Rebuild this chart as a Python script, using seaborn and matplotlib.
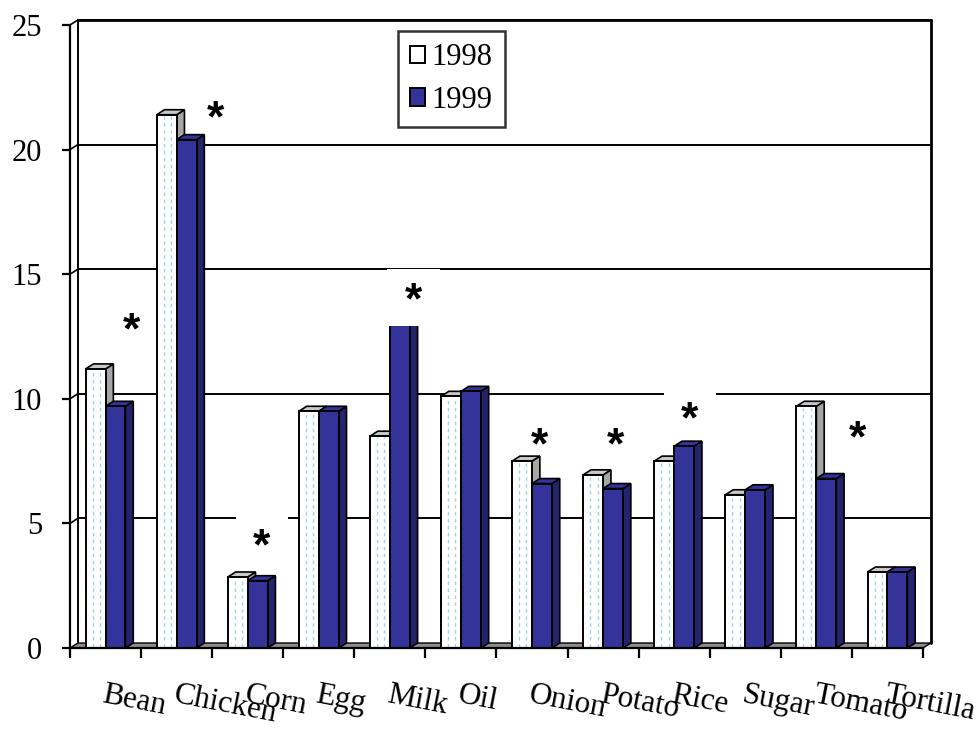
import matplotlib
matplotlib.use("Agg")
import matplotlib.pyplot as plt
from matplotlib.patches import Polygon, Patch, Rectangle
import seaborn as sns
import pandas as pd

# Average price per food item, two survey years
foods = ["Bean", "Chicken", "Corn", "Egg", "Milk", "Oil",
         "Onion", "Potato", "Rice", "Sugar", "Tomato", "Tortilla"]
values_1998 = [11.2, 21.4, 2.85, 9.5, 8.5, 10.1, 7.5, 6.95, 7.5, 6.15, 9.7, 3.05]
values_1999 = [9.7, 20.4, 2.7, 9.5, 12.95, 10.3, 6.6, 6.4, 8.1, 6.35, 6.8, 3.05]
years = ["1998", "1999"]
y_ticks = [0, 5, 10, 15, 20, 25]

# Significant changes marked with an asterisk:
# (food, height, x offset, depth of the white label box below it, 0 = no box)
stars = [("Bean", 12.7, 0.36, 0), ("Chicken", 21.2, 0.55, 0),
         ("Corn", 4.0, 0.2, 0.75), ("Milk", 13.9, 0.33, 0.97),
         ("Onion", 8.05, 0.1, 0), ("Potato", 8.05, 0.17, 0),
         ("Rice", 9.1, 0.22, 0.7), ("Tomato", 8.35, 0.58, 0)]

df = pd.DataFrame({
    "food": foods * 2,
    "value": values_1998 + values_1999,
    "year": [years[0]] * len(foods) + [years[1]] * len(foods),
})

serif = ["Liberation Serif", "DejaVu Serif"]
front_colors = {"1998": "#ffffff", "1999": "#333399"}
side_colors = {"1998": "#a6a6a6", "1999": "#24246e"}
top_colors = {"1998": "#c8c8c8", "1999": "#333399"}

sns.set_style("white")
plt.rcParams.update({"text.color": "black", "axes.labelcolor": "black",
                     "xtick.color": "black", "ytick.color": "black"})
fig = plt.figure(figsize=(9.79, 7.30), dpi=100)
ax = fig.add_axes([70 / 979, 82 / 730, 853 / 979, 623 / 730])

sns.barplot(data=df, x="food", y="value", hue="year", order=foods,
            hue_order=years, palette=front_colors, saturation=1,
            width=0.56, dodge=True, edgecolor="black", linewidth=1.4,
            legend=False, ax=ax)

ax.set_xlim(-0.5, len(foods) - 0.5)
ax.set_ylim(0, 25)

# depth of the pseudo-3D extrusion in data units
dx, dy = 0.11, 0.2

for k, (year, cont) in enumerate(zip(years, ax.containers)):
    zb = 3 + 1.5 * k
    for bar in cont.patches:
        x0, w, h = bar.get_x(), bar.get_width(), bar.get_height()
        bar.set_zorder(zb + 0.2)
        side = Polygon([(x0 + w, 0), (x0 + w + dx, dy), (x0 + w + dx, h + dy),
                        (x0 + w, h)], closed=True, facecolor=side_colors[year],
                       edgecolor="black", linewidth=1.2, zorder=zb)
        top = Polygon([(x0, h), (x0 + dx, h + dy), (x0 + w + dx, h + dy),
                       (x0 + w, h)], closed=True, facecolor=top_colors[year],
                      edgecolor="black", linewidth=1.2, zorder=zb)
        ax.add_patch(side)
        ax.add_patch(top)
        if year == "1998":
            for f in (0.35, 0.72):
                ax.vlines(x0 + f * w, 0.05, h - 0.05, colors="#9ed6e0",
                          linestyles=(0, (2.5, 2.5)), linewidth=1.0,
                          zorder=zb + 0.3)

# back wall, floor and gridlines
x_lo, x_hi = -0.5, len(foods) - 0.5
for v in y_ticks[1:]:
    ax.plot([x_lo + dx, x_hi + dx], [v + dy, v + dy], color="black",
            linewidth=1.4, zorder=1, clip_on=False)
    ax.plot([x_lo, x_lo + dx], [v, v + dy], color="black", linewidth=1.2,
            zorder=1, clip_on=False)
ax.plot([x_lo + dx, x_lo + dx], [dy, 25 + dy], color="black", linewidth=1.4,
        zorder=1, clip_on=False)
ax.plot([x_hi + dx, x_hi + dx], [dy, 25 + dy], color="black", linewidth=2.0,
        zorder=1, clip_on=False)
ax.plot([x_lo + dx, x_hi + dx], [25 + dy, 25 + dy], color="black",
        linewidth=2.0, zorder=1, clip_on=False)
floor = Polygon([(x_lo, 0), (x_hi, 0), (x_hi + dx, dy), (x_lo + dx, dy)],
                closed=True, facecolor="#8c8c8c", edgecolor="black",
                linewidth=1.0, zorder=1.5, clip_on=False)
ax.add_patch(floor)

# asterisks, some on white label boxes
for food, yv, off, depth in stars:
    xc = foods.index(food) + off
    if depth:
        ax.add_patch(Rectangle((xc - 0.37, yv - depth), 0.74, depth + 1.3,
                               facecolor="white", edgecolor="none", zorder=7))
    ax.text(xc, yv, "*", ha="center", va="center", fontsize=32,
            fontweight="bold", family=["Liberation Sans", "DejaVu Sans"],
            color="black", zorder=8)

# axes, ticks and labels
for s in ("top", "right"):
    ax.spines[s].set_visible(False)
for s in ("left", "bottom"):
    ax.spines[s].set_color("black")
    ax.spines[s].set_linewidth(1.6)
    ax.spines[s].set_zorder(6)

ax.set_yticks(y_ticks)
ax.set_yticklabels([str(t) for t in y_ticks], fontsize=22, family=serif,
                   color="black")
ax.set_xticks([i - 0.5 for i in range(len(foods) + 1)])
ax.set_xticklabels([])
ax.tick_params(axis="y", direction="out", length=6, width=1.6, pad=14,
               left=True, colors="black")
ax.tick_params(axis="x", direction="out", length=7, width=1.6, bottom=True,
               colors="black")
ax.set_xlabel("")
ax.set_ylabel("")

for i, food in enumerate(foods):
    ax.text(i, -1.3, food, ha="left", va="top", rotation=-11,
            rotation_mode="anchor", fontsize=22.5, family=serif,
            color="black", clip_on=False)

handles = [Patch(facecolor=front_colors[y], edgecolor="black", linewidth=1.4)
           for y in years]
leg = fig.legend(handles, years, loc="upper left",
                 bbox_to_anchor=(398 / 979, 1 - 31 / 730),
                 bbox_transform=fig.transFigure, prop={"family": serif, "size": 22},
                 frameon=True, fancybox=False, edgecolor="black",
                 handlelength=0.5, handleheight=0.5, handletextpad=0.2,
                 labelspacing=0.45, borderpad=0.4, borderaxespad=0)
leg.get_frame().set_linewidth(1.8)
for t in leg.get_texts():
    t.set_color("black")

fig.savefig("out.png", dpi=100)
